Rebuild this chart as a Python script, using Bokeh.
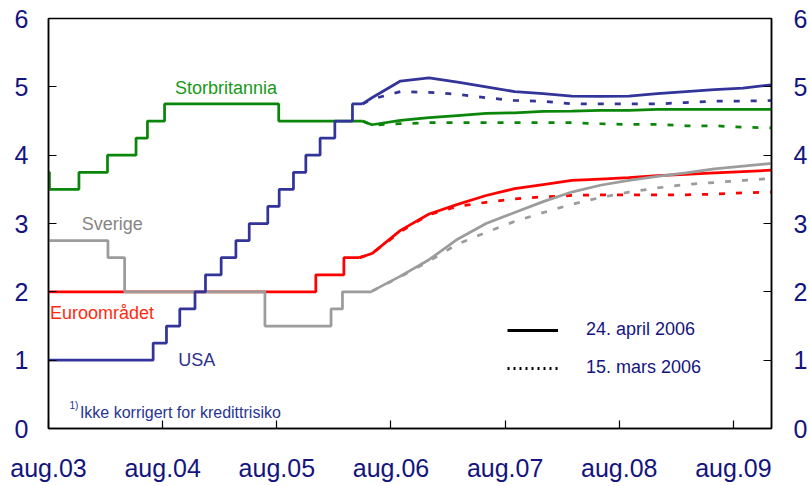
from bokeh.plotting import figure
from bokeh.models import Range1d, LinearAxis, FixedTicker, Label, Legend, LegendItem
from bokeh.embed import file_html
from bokeh.resources import INLINE

# x = months after August 2003
tick_months = [0, 12, 24, 36, 48, 60, 72]
tick_labels = ["aug.03", "aug.04", "aug.05", "aug.06", "aug.07", "aug.08", "aug.09"]
y_ticks = [0, 1, 2, 3, 4, 5, 6]

# historical policy rates (step changes)
uk_x = [0, 0.1, 3.2, 6.2, 9.2, 10.4, 12.2, 24.2, 33]
uk_y = [3.75, 3.5, 3.75, 4.0, 4.25, 4.5, 4.75, 4.5, 4.5]
usa_x = [0, 11.0, 12.4, 13.8, 15.4, 16.5, 18.15, 19.7, 21.1, 23.05, 24.25, 25.75, 27.05, 28.55, 30.1, 31.95, 33]
usa_y = [1.0, 1.25, 1.5, 1.75, 2.0, 2.25, 2.5, 2.75, 3.0, 3.25, 3.5, 3.75, 4.0, 4.25, 4.5, 4.75, 4.75]
euro_x = [0, 28.1, 31.05, 32.7]
euro_y = [2.0, 2.25, 2.5, 2.5]
swe_x = [0, 6.25, 8.0, 22.75, 29.7, 30.9, 34]
swe_y = [2.75, 2.5, 2.0, 1.5, 1.75, 2.0, 2.0]

# forward rates
fwd_m = [34, 37, 40, 43, 46, 49, 52, 55, 58, 61, 64, 67, 70, 73, 76]
uk_apr = [4.445, 4.51, 4.55, 4.58, 4.61, 4.62, 4.64, 4.645, 4.655, 4.655, 4.67, 4.67, 4.67, 4.67, 4.67]
uk_mar = [4.44, 4.46, 4.475, 4.475, 4.475, 4.475, 4.475, 4.475, 4.46, 4.45, 4.45, 4.43, 4.43, 4.41, 4.40]
usa_apr = [4.84, 5.085, 5.13, 5.07, 5.0, 4.93, 4.90, 4.865, 4.86, 4.865, 4.90, 4.93, 4.96, 4.98, 5.03]
usa_mar = [4.82, 4.93, 4.92, 4.89, 4.84, 4.80, 4.79, 4.75, 4.75, 4.75, 4.75, 4.77, 4.79, 4.79, 4.80]
euro_apr = [2.56, 2.90, 3.14, 3.28, 3.41, 3.51, 3.57, 3.63, 3.65, 3.67, 3.70, 3.72, 3.74, 3.76, 3.78]
euro_mar = [2.56, 2.88, 3.13, 3.25, 3.31, 3.36, 3.39, 3.41, 3.42, 3.42, 3.42, 3.42, 3.43, 3.45, 3.46]
swe_apr = [2.01, 2.23, 2.47, 2.77, 3.0, 3.16, 3.32, 3.46, 3.56, 3.63, 3.69, 3.74, 3.80, 3.84, 3.88]
swe_mar = [2.01, 2.22, 2.45, 2.70, 2.87, 3.03, 3.16, 3.28, 3.38, 3.46, 3.52, 3.57, 3.60, 3.63, 3.66]

GREEN = "#0a870a"
BLUE = "#33349a"
RED = "#ff0000"
GRAY = "#9c9c9c"
NAVY = "#14147e"
FONT = "Liberation Sans"
LW = 2.75
DASH = "6 11"
NAN = float("nan")

p = figure(width=810, height=486, output_backend="svg", toolbar_location=None,
           x_range=Range1d(0, 76), y_range=Range1d(0, 6),
           min_border_left=48, min_border_right=37, min_border_top=18, min_border_bottom=58)
p.background_fill_color = "white"
p.border_fill_color = "white"
p.outline_line_color = "black"
p.outline_line_width = 1.5
p.xgrid.visible = False
p.ygrid.visible = False

def style_axis(ax, standoff):
    ax.axis_line_color = "black"
    ax.axis_line_width = 1.5
    ax.major_tick_in = 8
    ax.major_tick_out = 0
    ax.minor_tick_in = 0
    ax.minor_tick_out = 0
    ax.major_tick_line_color = "black"
    ax.major_tick_line_width = 1.2
    ax.major_label_text_font = FONT
    ax.major_label_text_font_size = "25px"
    ax.major_label_text_color = NAVY
    ax.major_label_standoff = standoff

xa = p.xaxis[0]
xa.ticker = FixedTicker(ticks=tick_months)
xa.major_label_overrides = {m: l for m, l in zip(tick_months, tick_labels)}
style_axis(xa, 25)

ya = p.yaxis[0]
ya.ticker = FixedTicker(ticks=y_ticks)
style_axis(ya, 20)

yr = LinearAxis(ticker=FixedTicker(ticks=y_ticks))
style_axis(yr, 22)
p.add_layout(yr, "right")

# historical + forward lines
p.step(euro_x, euro_y, mode="after", line_color=RED, line_width=LW)
p.line([euro_x[-1]] + fwd_m, [euro_y[-1]] + euro_mar, line_color=RED, line_width=LW, line_dash=DASH)
p.line([euro_x[-1]] + fwd_m, [euro_y[-1]] + euro_apr, line_color=RED, line_width=LW)

p.step(swe_x, swe_y, mode="after", line_color=GRAY, line_width=LW)
p.line(fwd_m, swe_mar, line_color=GRAY, line_width=LW, line_dash=DASH)
p.line(fwd_m, swe_apr, line_color=GRAY, line_width=LW)

p.step(uk_x, uk_y, mode="after", line_color=GREEN, line_width=LW)
p.line([uk_x[-1]] + fwd_m, [uk_y[-1]] + uk_mar, line_color=GREEN, line_width=LW, line_dash=DASH)
p.line([uk_x[-1]] + fwd_m, [uk_y[-1]] + uk_apr, line_color=GREEN, line_width=LW)

p.step(usa_x, usa_y, mode="after", line_color=BLUE, line_width=LW)
p.line([usa_x[-1]] + fwd_m, [usa_y[-1]] + usa_mar, line_color=BLUE, line_width=LW, line_dash=DASH)
p.line([usa_x[-1]] + fwd_m, [usa_y[-1]] + usa_apr, line_color=BLUE, line_width=LW)

# series labels
def lab(x, y, text, color, size="18px"):
    p.add_layout(Label(x=x, y=y, text=text, text_color=color, text_font=FONT,
                       text_font_size=size, text_baseline="middle", text_align="left"))

lab(13.3, 4.98, "Storbritannia", "#189a18")
lab(3.5, 2.99, "Sverige", "#858585")
lab(0.15, 1.69, "Euroområdet", "#ff2a10")
lab(13.65, 1.0, "USA", "#2e3192")
lab(2.2, 0.34, "1)", "#283593", "10px")
lab(3.3, 0.24, "Ikke korrigert for kredittrisiko", "#283593", "16px")

# legend (renderers hold no visible data)
r1 = p.line([NAN, NAN], [NAN, NAN], line_color="black", line_width=3)
r2 = p.line([NAN, NAN], [NAN, NAN], line_color="black", line_width=3, line_dash="2 4")
legend = Legend(items=[LegendItem(label="24. april 2006", renderers=[r1]),
                       LegendItem(label="15. mars 2006", renderers=[r2])],
                location=(459, 50), orientation="vertical",
                glyph_width=51, glyph_height=20, label_height=20, label_standoff=28,
                spacing=17, padding=0, margin=0,
                border_line_color=None, background_fill_alpha=0,
                label_text_font=FONT, label_text_font_size="18px", label_text_color=NAVY)
p.add_layout(legend, "center")

open("out.html", "w").write(file_html(p, INLINE))
